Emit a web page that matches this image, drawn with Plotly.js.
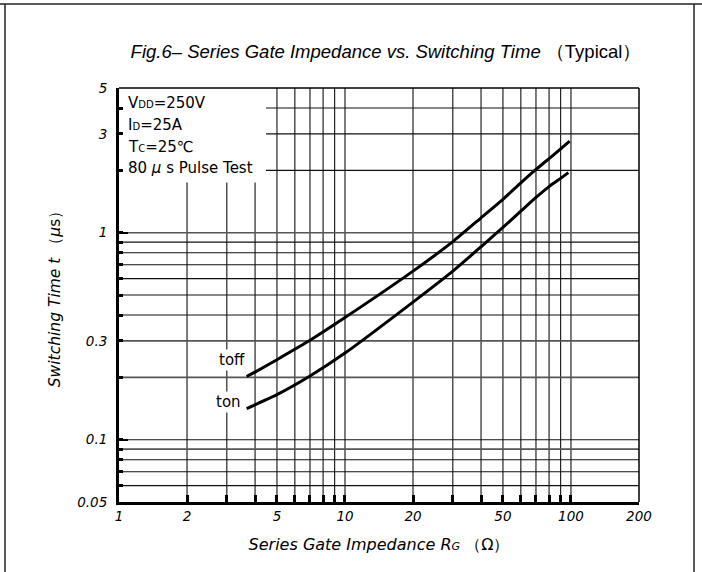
<!DOCTYPE html>
<html>
<head>
<meta charset="utf-8">
<script src="https://cdn.plot.ly/plotly-3.0.1.min.js"></script>
<style>html,body{margin:0;padding:0;background:#fff;}#chart{width:702px;height:572px;}</style>
</head>
<body>
<div id="chart"></div>
<script>
// ---- data ----
const rgToff = [3.67, 4, 5, 7, 10, 20, 30, 40, 50, 60, 70, 80, 90, 98.7];
const toff   = [0.202, 0.212, 0.2435, 0.302, 0.389, 0.652, 0.905, 1.18, 1.45, 1.74, 2.02, 2.28, 2.54, 2.77];
const rgTon  = [3.67, 5, 7, 10, 20, 30, 40, 50, 60, 70, 80, 90, 97.4];
const ton    = [0.1413, 0.165, 0.203, 0.262, 0.462, 0.652, 0.855, 1.06, 1.27, 1.48, 1.67, 1.83, 1.95];

const xGridFull    = [5, 6, 7, 8, 9, 10, 20, 30, 40, 50, 60, 70, 80, 90, 100];
const xGridPartial = [2, 3, 4];
const yGridFull    = [1, 0.9, 0.8, 0.7, 0.6, 0.5, 0.4, 0.3, 0.2, 0.1, 0.09, 0.08, 0.07, 0.06];
const yGridGray    = [1, 0.3, 0.2, 0.09];
const yGridPartial = [4, 3, 2];

const xTickVals = [1, 2, 3, 4, 5, 6, 7, 8, 9, 10, 20, 30, 40, 50, 60, 70, 80, 90, 100, 200];
const xTickLabels = {1: '1', 2: '2', 5: '5', 10: '10', 20: '20', 50: '50', 100: '100', 200: '200'};
const yTickVals = [0.05, 0.06, 0.07, 0.08, 0.09, 0.1, 0.2, 0.3, 0.4, 0.5, 0.6, 0.7, 0.8, 0.9, 1, 2, 3, 4, 5];
const yTickLabels = {0.05: '0.05', 0.1: '0.1', 0.3: '0.3', 1: '1', 3: '3', 5: '5'};
const yMajorStubs = [0.1, 1, 5];

const xMin = 1, xMax = 200, yMin = 0.05, yMax = 5;
// text box region (grid lines are left out there)
const boxRight = 4.47, boxBottom = 1.75;

// ---- layout geometry ----
const W = 702, Hh = 572;
const L = 119, R = 63, T = 88, B = 70;
const PW = W - L - R, PH = Hh - T - B;
const fx = px => (px - L) / PW;
const fy = py => 1 - (py - T) / PH;

function vLines(xs, y0, y1) {
  const X = [], Y = [];
  xs.forEach(v => { X.push(v, v, null); Y.push(y0, y1, null); });
  return {X, Y};
}
function hLines(ys, x0, x1) {
  const X = [], Y = [];
  ys.forEach(v => { X.push(x0, x1, null); Y.push(v, v, null); });
  return {X, Y};
}

const vf = vLines(xGridFull, yMin, yMax);
const vp = vLines(xGridPartial, yMin, boxBottom);
const hfBlack = hLines(yGridFull.filter(v => !yGridGray.includes(v)), xMin, xMax);
const hfGray = hLines(yGridGray, xMin, xMax);
const hp = hLines(yGridPartial, boxRight, xMax);

const gridStyle = {color: '#111', width: 1.1};
const traces = [
  {x: vf.X, y: vf.Y, mode: 'lines', line: gridStyle, hoverinfo: 'skip', showlegend: false},
  {x: vp.X, y: vp.Y, mode: 'lines', line: gridStyle, hoverinfo: 'skip', showlegend: false},
  {x: hfBlack.X, y: hfBlack.Y, mode: 'lines', line: gridStyle, hoverinfo: 'skip', showlegend: false},
  {x: hfGray.X, y: hfGray.Y, mode: 'lines', line: {color: '#555', width: 1.6}, hoverinfo: 'skip', showlegend: false},
  {x: hp.X, y: hp.Y, mode: 'lines', line: gridStyle, hoverinfo: 'skip', showlegend: false, yaxis: 'y2'},
  {x: rgToff, y: toff, mode: 'lines', name: 'toff', line: {color: '#000', width: 3, shape: 'spline', smoothing: 0.5}, showlegend: false},
  {x: rgTon, y: ton, mode: 'lines', name: 'ton', line: {color: '#000', width: 3, shape: 'spline', smoothing: 0.5}, showlegend: false}
];

const sans = 'DejaVu Sans, Verdana, sans-serif';
const italic = {family: sans, size: 13.5, color: '#000', style: 'italic'};
const boxFont = {family: sans, size: 15, color: '#000'};

const boxRows = [
  {text: 'V<span style="font-size:10px">DD</span>=250V', py: 103},
  {text: 'I<span style="font-size:10px">D</span>=25A', py: 125},
  {text: 'T<span style="font-size:10px">C</span>=25℃', py: 147},
  {text: '80 <i>μ</i> s Pulse Test', py: 168}
];

const annotations = boxRows.map(r => ({
  xref: 'paper', yref: 'paper', x: fx(126), y: fy(r.py), xanchor: 'left', yanchor: 'middle',
  text: r.text, showarrow: false, font: boxFont
}));
annotations.push(
  {xref: 'paper', yref: 'paper', x: fx(232), y: fy(360), xanchor: 'center', yanchor: 'middle',
   text: 'toff', showarrow: false, font: {family: sans, size: 15, color: '#000'}, bgcolor: '#fff'},
  {xref: 'paper', yref: 'paper', x: fx(228), y: fy(402), xanchor: 'center', yanchor: 'middle',
   text: 'ton', showarrow: false, font: {family: sans, size: 15, color: '#000'}, bgcolor: '#fff'}
);

const shapes = [
  // plot top and right borders
  {type: 'line', xref: 'paper', yref: 'paper', x0: 0, x1: 1, y0: 1, y1: 1, line: {color: '#000', width: 1.5}},
  {type: 'line', xref: 'paper', yref: 'paper', x0: 1, x1: 1, y0: 0, y1: 1, line: {color: '#000', width: 1.5}},
  // outer frame
  {type: 'line', xref: 'paper', yref: 'paper', x0: fx(0), x1: fx(702), y0: fy(4), y1: fy(4), line: {color: '#222', width: 1.5}},
  {type: 'line', xref: 'paper', yref: 'paper', x0: fx(5), x1: fx(5), y0: fy(4), y1: fy(572), line: {color: '#222', width: 1.5}},
  {type: 'line', xref: 'paper', yref: 'paper', x0: fx(694), x1: fx(694), y0: fy(4), y1: fy(572), line: {color: '#222', width: 1.5}}
];

const layout = {
  width: W, height: Hh,
  margin: {l: L, r: R, t: T, b: B, pad: 0},
  paper_bgcolor: '#fff', plot_bgcolor: '#fff',
  showlegend: false,
  title: {
    text: '<i>Fig.6– Series Gate Impedance vs. Switching Time</i> （Typical）',
    font: {family: 'Liberation Sans, Arial, sans-serif', size: 18.5, color: '#000'},
    x: 386 / W, xanchor: 'center', xref: 'container',
    y: 1 - 52 / Hh, yanchor: 'middle', yref: 'container'
  },
  xaxis: {
    type: 'log', range: [Math.log10(xMin), Math.log10(xMax)],
    tickmode: 'array', tickvals: xTickVals,
    ticktext: xTickVals.map(v => xTickLabels[v] || ''),
    ticks: 'inside', ticklen: 7, tickwidth: 3, tickcolor: '#000',
    tickfont: italic,
    showgrid: false, zeroline: false,
    showline: true, linewidth: 3, linecolor: '#000', mirror: false,
    title: {text: '<i>Series Gate Impedance R<span style="font-size:11px">G</span></i> （Ω）',
            font: {family: sans, size: 16, color: '#000'}, standoff: 16},
    fixedrange: true
  },
  yaxis: {
    type: 'log', range: [Math.log10(yMin), Math.log10(yMax)],
    tickmode: 'array', tickvals: yTickVals,
    ticktext: yTickVals.map(v => yTickLabels[v] || ''),
    ticks: 'inside', ticklen: 4, tickwidth: 3, tickcolor: '#000',
    tickfont: italic, ticklabelstandoff: 6,
    showgrid: false, zeroline: false,
    showline: true, linewidth: 3, linecolor: '#000', mirror: false,
    title: {text: '<i>Switching Time t</i> （<i>μ</i>s）',
            font: {family: sans, size: 15.5, color: '#000'}, standoff: 13},
    fixedrange: true
  },
  yaxis2: {
    type: 'log', range: [Math.log10(yMin), Math.log10(yMax)], overlaying: 'y', side: 'left',
    tickmode: 'array', tickvals: yMajorStubs, ticks: 'inside', ticklen: 9, tickwidth: 2, tickcolor: '#000',
    showticklabels: false, showgrid: false, zeroline: false, showline: false, fixedrange: true
  },
  annotations: annotations,
  shapes: shapes
};

Plotly.newPlot('chart', traces, layout, {displayModeBar: false, staticPlot: true});
</script>
</body>
</html>
